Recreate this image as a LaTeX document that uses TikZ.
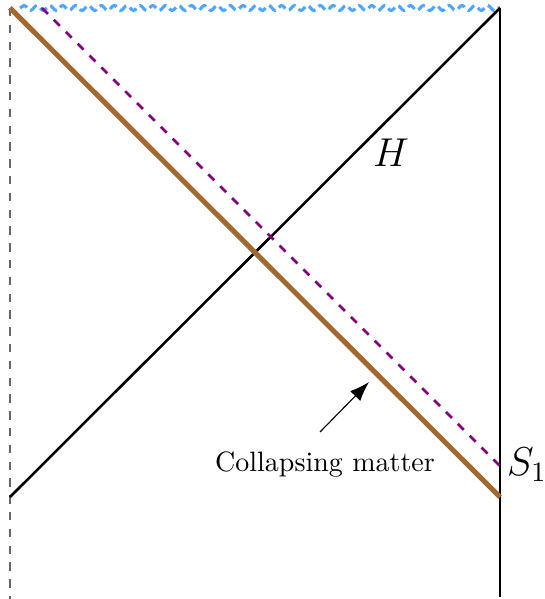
\documentclass[tikz,border=0pt]{standalone}
\usetikzlibrary{decorations.pathmorphing,arrows.meta}
\definecolor{sky}{RGB}{77,166,255}
\definecolor{matter}{RGB}{163,104,48}
\definecolor{shell}{RGB}{128,0,128}
\tikzset{
  bound/.style={line width=0.9pt,black},
  origin/.style={thin,dashed,gray!80!black},
  mattershell/.style={line width=1.8pt,matter},
  lightray/.style={line width=0.9pt,dashed,shell},
  sing/.style={line width=1.1pt,sky,dash pattern=on 3pt off 1.6pt,decorate,decoration={snake,amplitude=0.9pt,segment length=4.6pt}},
  lbl/.style={inner sep=0pt}
}
\begin{document}
\begin{tikzpicture}[x=0.3571pt,y=-0.3571pt]
\useasboundingbox (0,0) rectangle (544,599);
\coordinate (TL) at (10,8);
\coordinate (BL) at (10,599);
\coordinate (TR) at (500,8);
\coordinate (BR) at (500,597);
\coordinate (HL) at (10,497);
\coordinate (MB) at (500,497);
\coordinate (PT) at (42,8);
\coordinate (PB) at (500,466);
\coordinate (WS) at (20,8);
\coordinate (AS) at (320,432);
\coordinate (AE) at (369,382);
\draw[origin] (TL) -- (BL);
\draw[bound] (TR) -- (BR);
\draw[sing] (WS) -- (TR);
\draw[bound] (HL) -- (TR);
\draw[mattershell] (TL) -- (MB);
\draw[lightray] (PT) -- (PB);
\draw[thin,-{Latex[length=7pt,width=5pt]}] (AS) -- (AE);
\node[lbl] (H) at (391,153) {\Large $H$};
\node[lbl] (S) at (527,465) {\Large $S_1$};
\node[lbl] (CM) at (325,465) {Collapsing matter};
\end{tikzpicture}
\end{document}
